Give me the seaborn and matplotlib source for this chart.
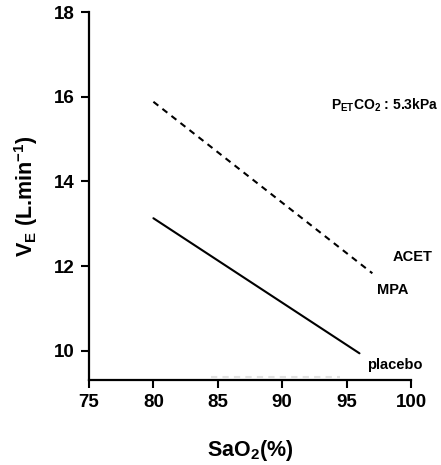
import matplotlib
matplotlib.use("Agg")
import matplotlib.pyplot as plt
import seaborn as sns
import pandas as pd

# Data
acet_x = [80, 97]
acet_y = [15.88, 11.83]
placebo_x = [80, 96]
placebo_y = [13.13, 9.94]
mpa_x = [84.5, 94.5]          # faint, mostly hidden by the x axis
mpa_y = [9.39, 9.39]
x_ticks = [75, 80, 85, 90, 95, 100]
y_ticks = [10, 12, 14, 16, 18]

df = pd.DataFrame({
    "SaO2": acet_x + placebo_x + mpa_x,
    "VE": acet_y + placebo_y + mpa_y,
    "group": ["ACET"] * 2 + ["placebo"] * 2 + ["MPA"] * 2,
})

sns.set_theme(style="ticks")
plt.rcParams["font.family"] = ["Liberation Sans", "DejaVu Sans"]
plt.rcParams["font.weight"] = "bold"
plt.rcParams["text.color"] = "black"
plt.rcParams["axes.labelcolor"] = "black"
plt.rcParams["xtick.color"] = "black"
plt.rcParams["ytick.color"] = "black"
plt.rcParams["mathtext.fontset"] = "custom"
plt.rcParams["mathtext.rm"] = "Liberation Sans:bold"
plt.rcParams["mathtext.bf"] = "Liberation Sans:bold"
plt.rcParams["mathtext.it"] = "Liberation Sans:bold"
plt.rcParams["mathtext.default"] = "bf"

fig = plt.figure(figsize=(4.41, 4.65), dpi=100)
ax = fig.add_axes([89 / 441, 1 - 380 / 465, 322 / 441, 368 / 465])

sns.lineplot(
    data=df, x="SaO2", y="VE", hue="group", style="group",
    palette={"ACET": "black", "placebo": "black", "MPA": "#e2e2e2"},
    dashes={"ACET": (3, 2.5), "placebo": "", "MPA": (3, 2.5)},
    linewidth=1.5, legend=False, ax=ax, zorder=1,
)

ax.set_xlim(75, 100)
ax.set_ylim(9.31, 18)
ax.set_xticks(x_ticks)
ax.set_yticks(y_ticks)
ax.set_xticklabels([str(v) for v in x_ticks], fontsize=13.5, fontweight="bold")
ax.set_yticklabels([str(v) for v in y_ticks], fontsize=13.5, fontweight="bold")
ax.tick_params(axis="both", length=6, width=1.5, color="black", labelcolor="black", pad=4)
for s in ["top", "right"]:
    ax.spines[s].set_visible(False)
for s in ["left", "bottom"]:
    ax.spines[s].set_linewidth(1.6)
    ax.spines[s].set_color("black")

ax.set_xlabel(r"SaO$_2$(%)", fontsize=15.5, fontweight="bold", va="center", color="black")
ax.xaxis.set_label_coords(0.5, (380 - 450) / 368)
ax.set_ylabel(r"V$_{\mathrm{E}}$ (L.min$^{\mathrm{-1}}$)", fontsize=15.5,
              fontweight="bold", va="center", color="black")
ax.yaxis.set_label_coords((26 - 89) / 322, 0.5)

ax.text(93.8, 15.80, r"P$_{\mathrm{ET}}$CO$_2$ : 5.3kPa", fontsize=10,
        fontweight="bold", ha="left", va="center", color="black")
ax.text(98.6, 12.22, "ACET", fontsize=10.5, fontweight="bold", ha="left", va="center", color="black")
ax.text(97.36, 11.44, "MPA", fontsize=10.5, fontweight="bold", ha="left", va="center", color="black")
ax.text(96.58, 9.67, "placebo", fontsize=10.5, fontweight="bold", ha="left", va="center", color="black")

for t in ax.texts:
    t.set_clip_on(False)

fig.savefig("out.png", dpi=100)
